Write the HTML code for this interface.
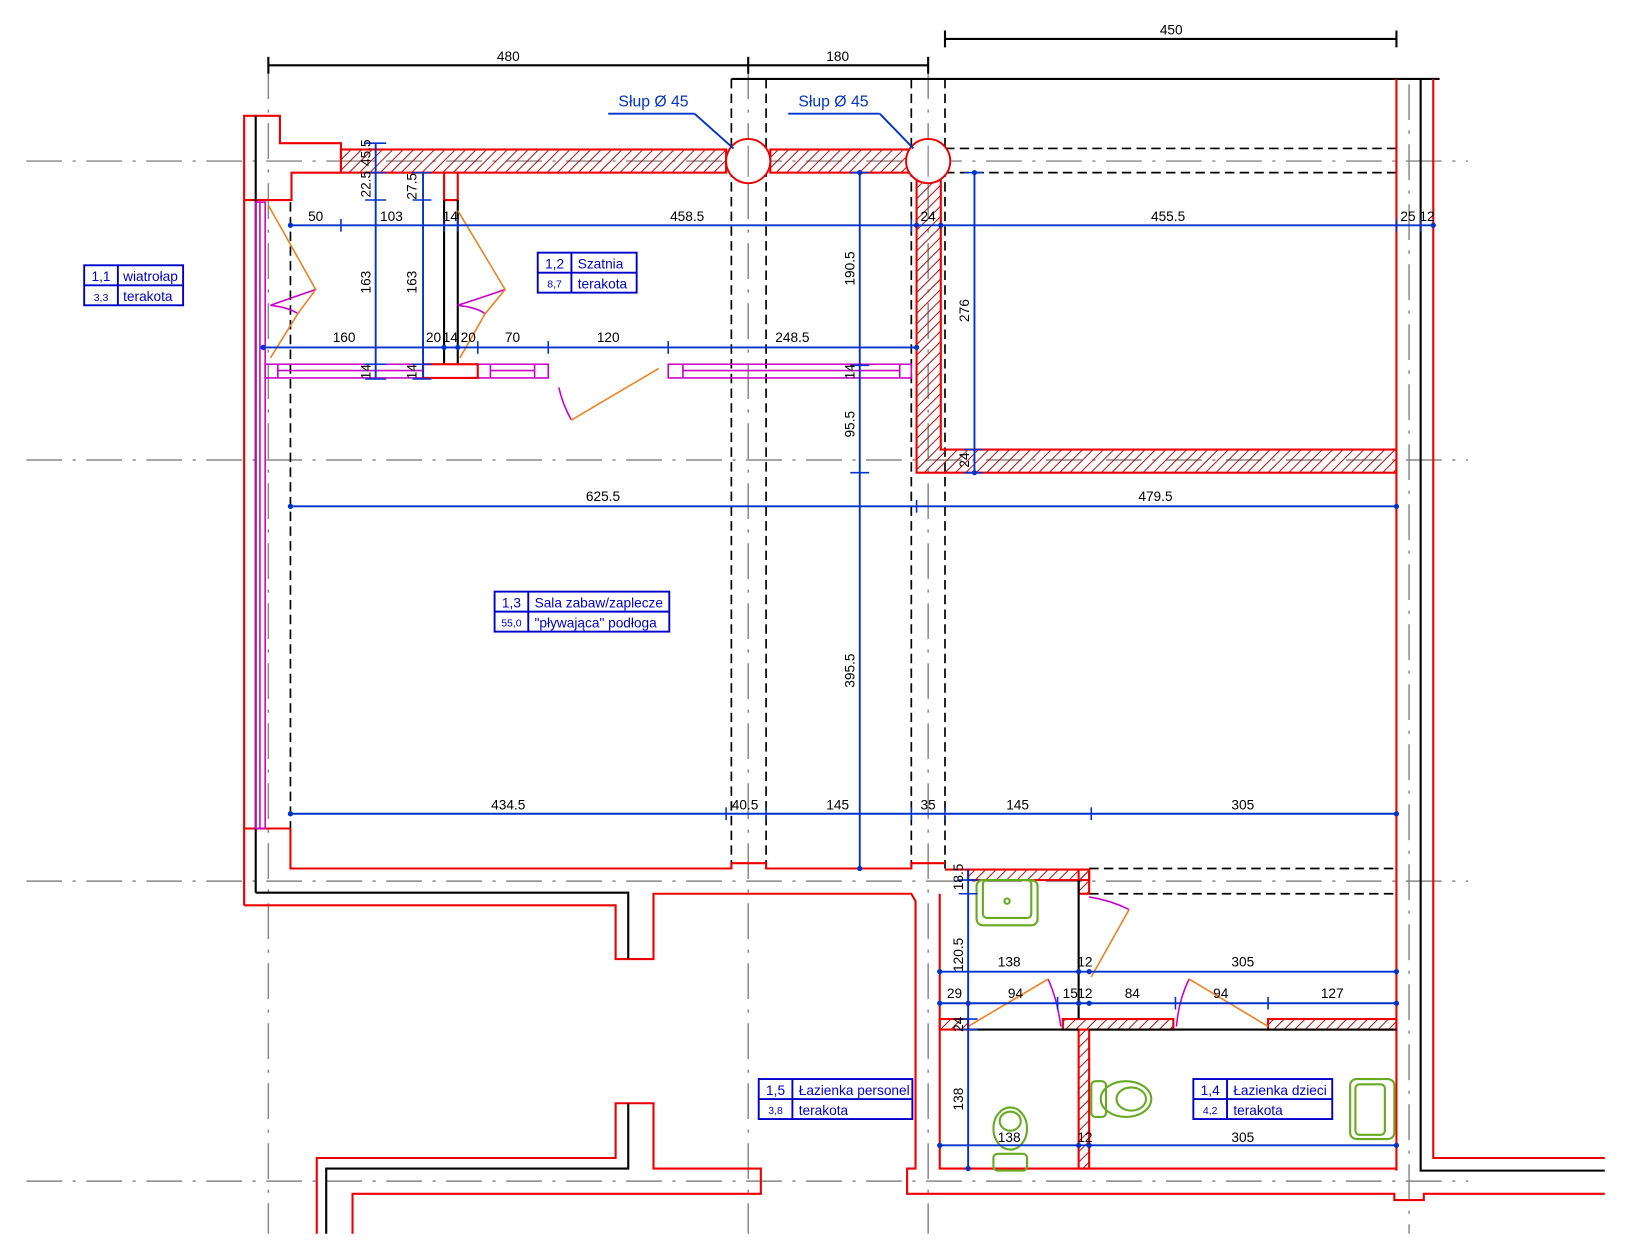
<!DOCTYPE html>
<html><head><meta charset="utf-8"><style>
html,body{margin:0;padding:0;background:#fff;}
svg{display:block;}
text{font-family:"Liberation Sans Narrow","Liberation Sans",sans-serif;}
</style></head><body>
<svg width="1649" height="1258" viewBox="0 0 1567 1195" preserveAspectRatio="none" xmlns="http://www.w3.org/2000/svg">
<defs>
<pattern id="h" width="7" height="7" patternUnits="userSpaceOnUse" patternTransform="rotate(45)">
<line x1="0" y1="0" x2="0" y2="7" stroke="#b00" stroke-width="1.8"/>
</pattern>
</defs>
<rect width="1567" height="1195" fill="#fff"/>

<g stroke="#888" stroke-width="1.4" fill="none" stroke-dasharray="34,10,3,10">
<line x1="25" y1="153" x2="1395" y2="153"/>
<line x1="25" y1="437" x2="1395" y2="437"/>
<line x1="25" y1="837" x2="1395" y2="837"/>
<line x1="25" y1="1122" x2="1395" y2="1122"/>
<line x1="255" y1="60" x2="255" y2="1172"/>
<line x1="711" y1="60" x2="711" y2="1172"/>
<line x1="882" y1="60" x2="882" y2="1172"/>
<line x1="1339" y1="80" x2="1339" y2="1172"/>
</g>

<g stroke="#000" stroke-width="2" fill="none">
<line x1="255" y1="62" x2="882" y2="62"/>
<line x1="255" y1="54" x2="255" y2="70"/><line x1="711" y1="54" x2="711" y2="70"/><line x1="882" y1="54" x2="882" y2="70"/>
<line x1="898" y1="37" x2="1327" y2="37"/>
<line x1="898" y1="29" x2="898" y2="45"/><line x1="1327" y1="29" x2="1327" y2="45"/>
<line x1="695" y1="75" x2="1368" y2="75"/>
</g>
<g font-size="13" fill="#000" text-anchor="middle">
<text x="483" y="58">480</text><text x="796" y="58">180</text><text x="1113" y="33">450</text>
</g>

<g stroke="#000" stroke-width="1.6" fill="none" stroke-dasharray="9,5">
<line x1="695" y1="75" x2="695" y2="825"/><line x1="728" y1="75" x2="728" y2="825"/>
<line x1="866" y1="75" x2="866" y2="825"/><line x1="898" y1="75" x2="898" y2="825"/>
<line x1="898" y1="141" x2="1327" y2="141"/><line x1="898" y1="164" x2="1327" y2="164"/>
<line x1="276" y1="192" x2="276" y2="787"/>
<line x1="1035" y1="825" x2="1327" y2="825"/><line x1="1035" y1="849" x2="1327" y2="849"/>
</g>

<g stroke="#e00" stroke-width="2" fill="url(#h)">
<rect x="324" y="142" width="366" height="22"/>
<rect x="732" y="142" width="132" height="22"/>
<path d="M871 164 L894 164 L894 427 L1327 427 L1327 449 L871 449 Z"/>
<rect x="920" y="826" width="115" height="10"/>
<rect x="1025" y="826" width="10" height="23"/>
<rect x="893" y="968" width="27" height="10"/>
<rect x="1010" y="968" width="105" height="10"/>
<rect x="1205" y="968" width="122" height="10"/>
<rect x="1025" y="978" width="10" height="132"/>
</g>
<g stroke="#e00" stroke-width="1.8" fill="#fff">
<circle cx="711" cy="153" r="21"/><circle cx="882" cy="153" r="21"/>
</g>
<g stroke="#888" stroke-width="1.2"><line x1="711" y1="138" x2="711" y2="168"/><line x1="882" y1="138" x2="882" y2="168"/></g>

<g stroke="#e00" stroke-width="2" fill="none">
<path d="M232 190 L232 110 L266 110 L266 136 L324 136 L324 164 L277 164 L277 190 Z"/>
<line x1="232" y1="190" x2="232" y2="860"/>
<path d="M232 860 L585 860 L585 911 L621 911 L621 849 L866 849 L870 856 L870 1110 L862 1110 L862 1134 L1325 1134 L1325 1140 L1353 1140 L1353 1134 L1525 1134"/>
<path d="M276 787 L276 825 L695 825 L695 820 L728 820 L728 825 L866 825 L866 820 L898 820"/>
<path d="M301 1172 L301 1100 L585 1100 L585 1048 L621 1048 L621 1110 L723 1110 L723 1134 L335 1134 L335 1172"/>
<line x1="1327" y1="75" x2="1327" y2="1112"/>
<path d="M1362 75 L1362 1100 L1525 1100"/>
<path d="M893 849 L893 1110 L1327 1110"/>
<line x1="898" y1="826" x2="920" y2="826"/>
<path d="M232 787 L276 787"/>
<path d="M422 164 L422 190 L435 190 L435 164"/>
</g>
<g stroke="#000" stroke-width="2" fill="none">
<line x1="243" y1="110" x2="243" y2="848"/>
<path d="M243 848 L597 848 L597 911"/>
<path d="M310 1172 L310 1110 L597 1110 L597 1048"/>
<path d="M1350 75 L1350 1112 L1525 1112"/>
<line x1="422" y1="190" x2="422" y2="346"/><line x1="435" y1="190" x2="435" y2="346"/>
<line x1="1025" y1="836" x2="1025" y2="968"/>
<line x1="920" y1="978" x2="1025" y2="978"/><line x1="1035" y1="978" x2="1327" y2="978"/>
</g>

<g stroke="#c0c" stroke-width="1.5" fill="none">
<rect x="243" y="192" width="9" height="595"/>
<line x1="247" y1="192" x2="247" y2="787"/>
<rect x="252" y="346" width="269" height="13"/>
<line x1="264" y1="346" x2="264" y2="359"/><line x1="264" y1="352" x2="402" y2="352"/>
<line x1="466" y1="346" x2="466" y2="359"/><line x1="508" y1="346" x2="508" y2="359"/><line x1="466" y1="352" x2="508" y2="352"/>
<rect x="635" y="346" width="231" height="13"/>
<line x1="649" y1="346" x2="649" y2="359"/><line x1="649" y1="352" x2="855" y2="352"/><line x1="855" y1="346" x2="855" y2="359"/>
<path d="M257 290 Q280 282 300 275"/><path d="M257 290 Q275 292 283 298"/>
<path d="M435 290 Q460 282 480 275"/><path d="M435 290 Q453 292 461 298"/>
<path d="M531 368 Q535 385 543 399"/>
<path d="M1035 852 Q1055 855 1073 864"/>
<path d="M996 930 Q1005 950 1008 975"/>
<path d="M1130 930 Q1120 950 1118 975"/>
</g>
<rect x="402" y="346" width="52" height="13" fill="#fff" stroke="#e00" stroke-width="2"/>

<g stroke="#f08020" stroke-width="1.5" fill="none">
<path d="M255 195 L300 275 L283 298 L257 340"/>
<path d="M435 200 L480 275 L461 298 L437 340"/>
<line x1="543" y1="399" x2="626" y2="350"/>
<line x1="1073" y1="864" x2="1037" y2="928"/>
<line x1="920" y1="975" x2="996" y2="930"/>
<line x1="1130" y1="930" x2="1205" y2="975"/>
</g>

<g stroke="#6a2" stroke-width="2" fill="none">
<rect x="928" y="836" width="58" height="43" rx="6"/>
<rect x="934" y="836" width="46" height="36" rx="4"/>
<circle cx="957" cy="856" r="2.5"/>
<rect x="1037" y="1027" width="14" height="34" rx="4"/>
<ellipse cx="1070" cy="1044" rx="24" ry="17"/><ellipse cx="1075" cy="1044" rx="14" ry="11"/>
<ellipse cx="960" cy="1072" rx="16" ry="20"/><ellipse cx="960" cy="1065" rx="10" ry="9"/>
<rect x="944" y="1096" width="32" height="16" rx="4"/>
<rect x="1283" y="1025" width="42" height="57" rx="6"/><rect x="1288" y="1030" width="28" height="48" rx="4"/>
</g>

<g stroke="#0033cc" stroke-width="1.8" fill="none">
<line x1="276" y1="214" x2="1362" y2="214"/>
<line x1="250" y1="330" x2="871" y2="330"/>
<line x1="276" y1="481" x2="1327" y2="481"/>
<line x1="276" y1="773" x2="1327" y2="773"/>
<line x1="357" y1="136" x2="357" y2="360"/>
<line x1="402" y1="164" x2="402" y2="360"/>
<line x1="817" y1="164" x2="817" y2="825"/>
<line x1="926" y1="164" x2="926" y2="449"/>
<line x1="920" y1="825" x2="920" y2="1110"/>
<line x1="893" y1="923" x2="1327" y2="923"/>
<line x1="893" y1="953" x2="1327" y2="953"/>
<line x1="893" y1="1088" x2="1327" y2="1088"/>
<line x1="578" y1="108" x2="660" y2="108"/><line x1="660" y1="108" x2="697" y2="141"/>
<line x1="749" y1="108" x2="836" y2="108"/><line x1="836" y1="108" x2="868" y2="141"/>
<g stroke-width="1.5">
<path d="M324 208v12M866 208v12M1327 208v12M1350 208v12M422 208v12M435 208v12"/>
<path d="M402 324v12M521 324v12M635 324v12M454 324v12"/>
<path d="M690 767v12M728 767v12M866 767v12M898 767v12M1037 767v12"/>
<path d="M871 475v12"/>
<path d="M347 136h20M347 164h20M347 190h20M392 164h18M392 190h18M347 346h20M347 360h20M392 346h18M392 360h18"/>
<path d="M808 449h18M808 164h18M916 164h18M916 427h18M916 449h18M808 347h18"/>
<path d="M911 849h18M911 968h18M911 978h18M911 836h18"/>
<path d="M1005 947v12M1117 947v12M1205 947v12"/>
</g>
</g>
<g fill="#0033cc">
<circle cx="276" cy="214" r="2.5"/><circle cx="1362" cy="214" r="2.5"/><circle cx="894" cy="214" r="2.5"/><circle cx="871" cy="214" r="2.5"/>
<circle cx="250" cy="330" r="2.5"/><circle cx="871" cy="330" r="2.5"/><circle cx="422" cy="330" r="2.5"/><circle cx="435" cy="330" r="2.5"/>
<circle cx="276" cy="481" r="2.5"/><circle cx="1327" cy="481" r="2.5"/>
<circle cx="276" cy="773" r="2.5"/><circle cx="1327" cy="773" r="2.5"/>
<circle cx="893" cy="923" r="2.5"/><circle cx="1327" cy="923" r="2.5"/><circle cx="1025" cy="923" r="2.5"/><circle cx="1035" cy="923" r="2.5"/>
<circle cx="893" cy="953" r="2.5"/><circle cx="1327" cy="953" r="2.5"/><circle cx="920" cy="953" r="2.5"/><circle cx="1025" cy="953" r="2.5"/><circle cx="1035" cy="953" r="2.5"/>
<circle cx="893" cy="1088" r="2.5"/><circle cx="1327" cy="1088" r="2.5"/><circle cx="1025" cy="1088" r="2.5"/><circle cx="1035" cy="1088" r="2.5"/>
<circle cx="817" cy="164" r="2.5"/><circle cx="817" cy="825" r="2.5"/><circle cx="926" cy="164" r="2.5"/><circle cx="926" cy="449" r="2.5"/><circle cx="920" cy="1110" r="2.5"/>
</g>

<g font-size="13" fill="#000" text-anchor="middle">
<text x="300" y="210">50</text><text x="372" y="210">103</text><text x="428" y="210">14</text><text x="653" y="210">458.5</text><text x="882" y="210">24</text><text x="1110" y="210">455.5</text><text x="1338" y="210">25</text><text x="1356" y="210">12</text>
<text x="327" y="325">160</text><text x="412" y="325">20</text><text x="428" y="325">14</text><text x="445" y="325">20</text><text x="487" y="325">70</text><text x="578" y="325">120</text><text x="753" y="325">248.5</text>
<text x="573" y="476">625.5</text><text x="1098" y="476">479.5</text>
<text x="483" y="769">434.5</text><text x="708" y="769">40.5</text><text x="796" y="769">145</text><text x="882" y="769">35</text><text x="967" y="769">145</text><text x="1181" y="769">305</text>
<text x="959" y="918">138</text><text x="1031" y="918">12</text><text x="1181" y="918">305</text>
<text x="907" y="948">29</text><text x="965" y="948">94</text><text x="1017" y="948">15</text><text x="1031" y="948">12</text><text x="1076" y="948">84</text><text x="1160" y="948">94</text><text x="1266" y="948">127</text>
<text x="959" y="1085">138</text><text x="1031" y="1085">12</text><text x="1181" y="1085">305</text>
<text transform="translate(352,268) rotate(-90)">163</text>
<text transform="translate(396,268) rotate(-90)">163</text>
<text transform="translate(396,177) rotate(-90)">27.5</text>
<text transform="translate(352,175) rotate(-90)">22.5</text>
<text transform="translate(352,145) rotate(-90)">45.5</text>
<text transform="translate(352,353) rotate(-90)">14</text>
<text transform="translate(396,353) rotate(-90)">14</text>
<text transform="translate(812,255) rotate(-90)">190.5</text>
<text transform="translate(812,403) rotate(-90)">95.5</text>
<text transform="translate(812,637) rotate(-90)">395.5</text>
<text transform="translate(812,353) rotate(-90)">14</text>
<text transform="translate(921,295) rotate(-90)">276</text>
<text transform="translate(921,437) rotate(-90)">24</text>
<text transform="translate(915,833) rotate(-90)">18.5</text>
<text transform="translate(915,907) rotate(-90)">120.5</text>
<text transform="translate(915,973) rotate(-90)">24</text>
<text transform="translate(915,1044) rotate(-90)">138</text>
</g>

<g font-size="15" fill="#0033cc" text-anchor="middle">
<text x="621" y="101">Słup Ø 45</text><text x="792" y="101">Słup Ø 45</text>
</g>
<g stroke="#0000cc" stroke-width="1.8" fill="none">
<rect x="80" y="252" width="94" height="38"/><line x1="112" y1="252" x2="112" y2="290"/><line x1="80" y1="271" x2="174" y2="271"/>
<rect x="511" y="240" width="94" height="38"/><line x1="543" y1="240" x2="543" y2="278"/><line x1="511" y1="259" x2="605" y2="259"/>
<rect x="470" y="562" width="166" height="38"/><line x1="502" y1="562" x2="502" y2="600"/><line x1="470" y1="581" x2="636" y2="581"/>
<rect x="721" y="1025" width="146" height="38"/><line x1="753" y1="1025" x2="753" y2="1063"/><line x1="721" y1="1044" x2="867" y2="1044"/>
<rect x="1134" y="1025" width="132" height="38"/><line x1="1166" y1="1025" x2="1166" y2="1063"/><line x1="1134" y1="1044" x2="1266" y2="1044"/>
</g>
<g fill="#0000cc" font-size="13">
<text x="96" y="267" text-anchor="middle">1,1</text><text x="96" y="286" text-anchor="middle" font-size="10">3,3</text><text x="117" y="267">wiatrołap</text><text x="117" y="286">terakota</text>
<text x="527" y="255" text-anchor="middle">1,2</text><text x="527" y="273" text-anchor="middle" font-size="10">8,7</text><text x="549" y="255">Szatnia</text><text x="549" y="274">terakota</text>
<text x="486" y="577" text-anchor="middle">1,3</text><text x="486" y="595" text-anchor="middle" font-size="10">55,0</text><text x="508" y="577">Sala zabaw/zaplecze</text><text x="508" y="596">"pływająca" podłoga</text>
<text x="737" y="1040" text-anchor="middle">1,5</text><text x="737" y="1058" text-anchor="middle" font-size="10">3,8</text><text x="759" y="1040">Łazienka personel</text><text x="759" y="1059">terakota</text>
<text x="1150" y="1040" text-anchor="middle">1,4</text><text x="1150" y="1058" text-anchor="middle" font-size="10">4,2</text><text x="1172" y="1040">Łazienka dzieci</text><text x="1172" y="1059">terakota</text>
</g>
</svg>
</body></html>
